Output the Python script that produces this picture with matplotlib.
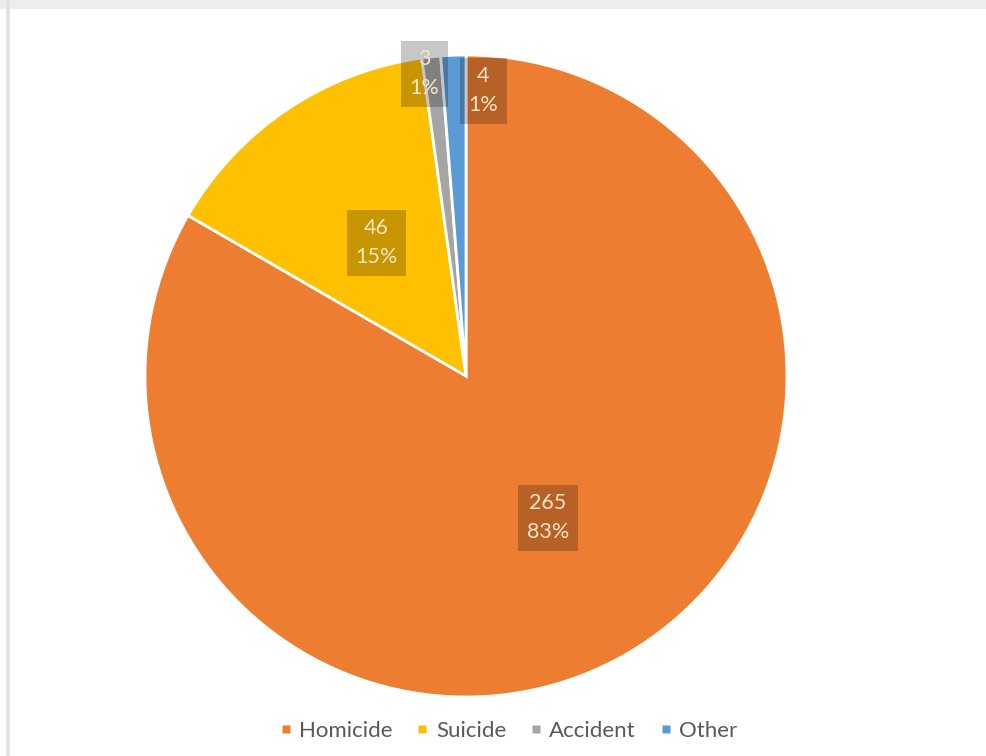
import numpy as np
import matplotlib.pyplot as plt
from matplotlib.lines import Line2D

plt.rcParams['font.family'] = ['Lato', 'DejaVu Sans']

# 死因分布
categories = ['Homicide', 'Suicide', 'Accident', 'Other']
counts = [265, 46, 3, 4]
percent_labels = ['83%', '15%', '1%', '1%']
colors = ['#ED7D31', '#FFC000', '#A5A5A5', '#5B9BD5']

fig = plt.figure(figsize=(9.87, 7.56), dpi=100)
W, H = 987, 756

# 外框
fig.patches.append(plt.Rectangle((0, 1 - 9 / H), 1, 9 / H, transform=fig.transFigure,
                                 facecolor='#EDEDED', edgecolor='none', zorder=0))
fig.patches.append(plt.Rectangle((6 / W, 0), 4 / W, 1, transform=fig.transFigure,
                                 facecolor='#E3E3E3', edgecolor='none', zorder=0))

cx, cy, r = 466, 376, 321
ax = fig.add_axes([(cx - r) / W, 1 - (cy + r) / H, 2 * r / W, 2 * r / H])

wedges, _ = ax.pie(counts, colors=colors, startangle=90, counterclock=False,
                   radius=1, wedgeprops=dict(edgecolor='white', linewidth=2))
ax.set_xlim(-1, 1)
ax.set_ylim(-1, 1)
ax.set_aspect('equal')
ax.axis('off')

# 标签位置：半径比例和角度偏移
label_dist = [0.51, 0.50, 0.95, 0.89]
angle_shift = [0, 0, 1.6, -5.7]
for w, n, p, d, s in zip(wedges, counts, percent_labels, label_dist, angle_shift):
    theta = np.deg2rad((w.theta1 + w.theta2) / 2 + s)
    ax.text(d * np.cos(theta), d * np.sin(theta), f'{n}\n{p}',
            ha='center', va='center', fontsize=15.5, color='#F5E6C8',
            linespacing=1.55,
            bbox=dict(boxstyle='square,pad=0.4', facecolor='black', alpha=0.22,
                      edgecolor='none'),
            clip_on=False)

handles = [Line2D([], [], marker='s', linestyle='none', markersize=6,
                  markerfacecolor=c, markeredgecolor='none') for c in colors]
fig.legend(handles, categories, loc='center', bbox_to_anchor=(0.515, 1 - 731 / H),
           ncol=4, frameon=False, fontsize=16, labelcolor='#595959',
           handlelength=0.6, handletextpad=0.3, columnspacing=1.05)

fig.savefig('out.png', dpi=100)
